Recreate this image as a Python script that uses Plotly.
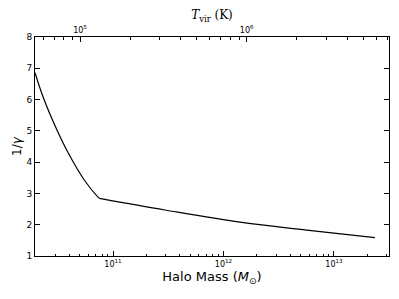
import plotly.graph_objects as go

# Data (two regimes meeting at the break)
mass_low = [1.968e10, 2.377e10, 3.133e10, 3.936e10, 5.495e10, 7.278e10, 7.551e10]
gamma_low = [6.86, 6.00, 5.00, 4.29, 3.43, 2.89, 2.84]
mass_high = [7.551e10, 2.958e11, 1.409e12, 5.662e12, 2.350e13]
gamma_high = [2.84, 2.47, 2.08, 1.83, 1.585]

mass_ticks = [1e11, 1e12, 1e13]
mass_ticktext = ["10<sup>11</sup>", "10<sup>12</sup>", "10<sup>13</sup>"]
tvir_ticks = [1e5, 1e6]
tvir_ticktext = ["10<sup>5</sup>", "10<sup>6</sup>"]
y_ticks = [1, 2, 3, 4, 5, 6, 7, 8]

mass_minor = [m * 10**e for e in (10, 11, 12, 13) for m in range(2, 10)]
tvir_minor = [m * 10**e for e in (4, 5, 6) for m in range(2, 10)]

fig = go.Figure()
fig.add_trace(go.Scatter(x=mass_low, y=gamma_low, mode="lines",
                         line=dict(color="black", width=1.2, shape="spline", smoothing=1.0),
                         showlegend=False))
fig.add_trace(go.Scatter(x=mass_high, y=gamma_high, mode="lines",
                         line=dict(color="black", width=1.2, shape="spline", smoothing=1.0),
                         showlegend=False))
# invisible trace to activate top axis
fig.add_trace(go.Scatter(x=[1e5], y=[None], xaxis="x2", mode="lines", showlegend=False))

font = "DejaVu Sans"
fig.update_layout(
    width=383, height=283,
    margin=dict(l=27, r=2, t=29, b=35),
    paper_bgcolor="white", plot_bgcolor="white",
    font=dict(family=font, size=9, color="black"),
    xaxis=dict(type="log", range=[10.294, 13.498], automargin=False,
               tickvals=mass_ticks, ticktext=mass_ticktext,
               ticks="inside", ticklen=5, tickcolor="black",
               minor=dict(tickvals=mass_minor, ticks="inside", ticklen=2.5, tickcolor="black"),
               showgrid=False, zeroline=False,
               showline=True, linecolor="black", linewidth=1,
               tickfont=dict(size=8),
               title=dict(text="Halo Mass (<i>M</i><sub>⊙</sub>)", font=dict(size=13), standoff=4)),
    xaxis2=dict(type="log", range=[4.73, 6.854], overlaying="x", side="top", automargin=False,
                tickvals=tvir_ticks, ticktext=tvir_ticktext,
                ticks="inside", ticklen=5, tickcolor="black",
                minor=dict(tickvals=tvir_minor, ticks="inside", ticklen=2.5, tickcolor="black"),
                showgrid=False, zeroline=False,
                showline=True, linecolor="black", linewidth=1,
                tickfont=dict(size=8),
                title=dict(text="<i>T</i><sub>vir</sub> (K)",
                           font=dict(size=12, family="DejaVu Serif"), standoff=3)),
    yaxis=dict(range=[1, 8], tickvals=y_ticks, automargin=False,
               ticks="inside", ticklen=5, tickcolor="black",
               showgrid=False, zeroline=False,
               showline=True, linecolor="black", linewidth=1, mirror="ticks",
               tickfont=dict(size=9),
               title=dict(text="1/<i>γ</i>", font=dict(size=12), standoff=2)),
)

fig.write_html("out.html")
